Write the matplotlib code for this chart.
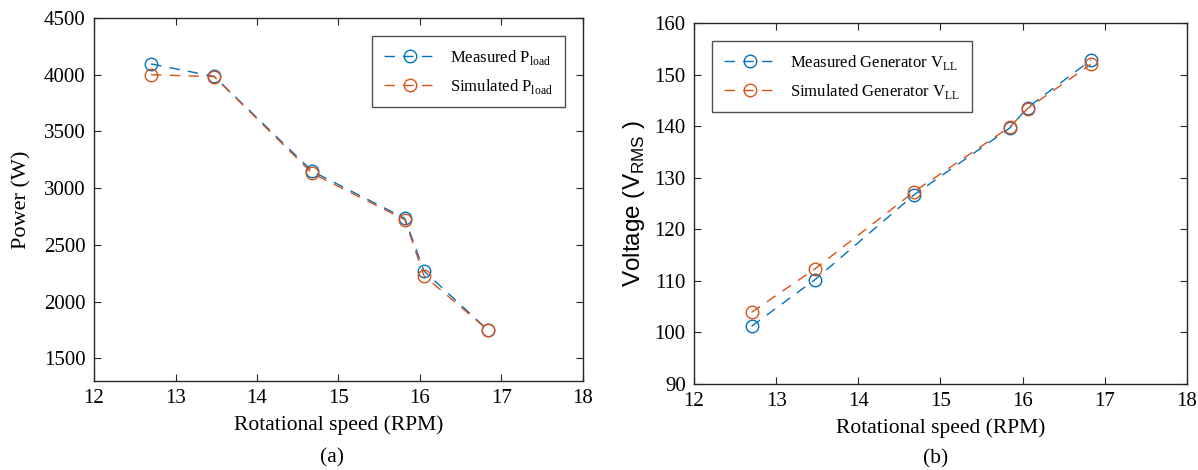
import matplotlib
matplotlib.use("Agg")
import matplotlib.pyplot as plt

plt.rcParams['font.family'] = ['Liberation Serif', 'DejaVu Serif']
plt.rcParams['mathtext.fontset'] = 'custom'
plt.rcParams['mathtext.rm'] = 'Liberation Serif'
plt.rcParams['mathtext.sf'] = 'Liberation Sans'

# (a) power vs speed
speed_a = [12.70, 13.475, 14.68, 15.815, 16.05, 16.83]
power_measured = [4095, 3985, 3148, 2734, 2270, 1752]
power_simulated = [4000, 3983, 3130, 2722, 2228, 1752]

# (b) line voltage vs speed
speed_b = [12.70, 13.47, 14.68, 15.84, 16.06, 16.83]
volt_measured = [101.2, 110.2, 126.7, 139.6, 143.6, 152.8]
volt_simulated = [103.9, 112.3, 127.3, 139.8, 143.4, 152.0]

blue = '#0072BD'
orange = '#D95319'

fig = plt.figure(figsize=(11.98, 4.70), dpi=100)
ax1 = fig.add_axes([0.0785, 0.1894, 0.408, 0.7723])
ax2 = fig.add_axes([0.5793, 0.183, 0.4115, 0.768])

style = dict(linestyle='--', marker='o', markersize=9, markerfacecolor='none',
             linewidth=1.0, dashes=(7.5, 6))

ax1.plot(speed_a, power_measured, color=blue, label='Measured P$_{\\mathrm{load}}$', **style)
ax1.plot(speed_a, power_simulated, color=orange, label='Simulated P$_{\\mathrm{load}}$', **style)
ax1.set_xlim(12, 18)
ax1.set_ylim(1300, 4500)
ax1.set_yticks(range(1500, 4501, 500))
ax1.set_ylabel('Power (W)', fontsize=16, labelpad=9)
ax1.set_xlabel('Rotational speed (RPM)', fontsize=15.5, labelpad=5)
ax1.legend(loc='upper right', fontsize=12, frameon=True, fancybox=False,
           edgecolor='#262626', borderpad=0.7, handlelength=3.2, labelspacing=0.6,
           borderaxespad=0, bbox_to_anchor=(0.963, 0.95))

ax2.plot(speed_b, volt_measured, color=blue, label='Measured Generator V$_{\\mathrm{LL}}$', **style)
ax2.plot(speed_b, volt_simulated, color=orange, label='Simulated Generator V$_{\\mathrm{LL}}$', **style)
ax2.set_xlim(12, 18)
ax2.set_ylim(90, 160)
ax2.set_yticks(range(90, 161, 10))
ax2.set_ylabel('Voltage (V$_{\\mathsf{RMS}}$ )', fontsize=17.5, family='Liberation Sans', labelpad=5)
ax2.set_xlabel('Rotational speed (RPM)', fontsize=15.5, labelpad=5)
ax2.legend(loc='upper left', fontsize=12, frameon=True, fancybox=False,
           edgecolor='#262626', borderpad=0.7, handlelength=3.2, labelspacing=0.6,
           borderaxespad=0, bbox_to_anchor=(0.0365, 0.95))

for ax in (ax1, ax2):
    ax.tick_params(direction='in', top=True, right=True, labelsize=15, length=5,
                   color='#262626', pad=6)
    for s in ax.spines.values():
        s.set_color('#262626')
        s.set_linewidth(1.0)
    ax.legend_.get_frame().set_linewidth(1.0)

fig.text(0.277, 1 - 458 / 470, '(a)', ha='center', va='center', fontsize=15.5)
fig.text(0.781, 1 - 459 / 470, '(b)', ha='center', va='center', fontsize=15.5)

fig.savefig('out.png', dpi=100)
